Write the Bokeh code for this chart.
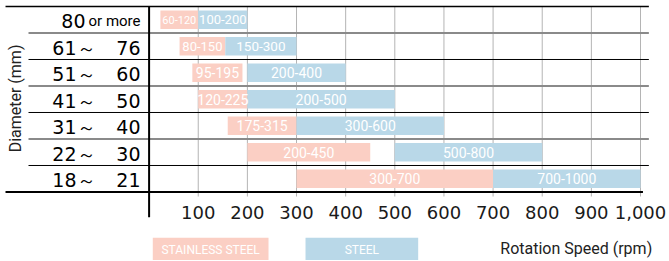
from bokeh.plotting import figure
from bokeh.models import Range1d, ColumnDataSource
from bokeh.core.properties import value
from bokeh.embed import file_html
from bokeh.resources import INLINE

# ---------------- data ----------------
diam_low = ["80", "61", "51", "41", "31", "22", "18"]
diam_high = ["or more", "76", "60", "50", "40", "30", "21"]

# drawn extents of the bars (rpm)
stainless_start = [23, 62, 88, 100, 160, 200, 300]
stainless_end = [100, 155, 190, 200, 300, 450, 700]
stainless_labels = ["60-120", "80-150", "95-195", "120-225", "175-315", "200-450", "300-700"]

steel_start = [100, 155, 200, 200, 300, 500, 700]
steel_end = [200, 300, 400, 500, 600, 800, 1000]
steel_labels = ["100-200", "150-300", "200-400", "200-500", "300-600", "500-800", "700-1000"]

tick_values = [100, 200, 300, 400, 500, 600, 700, 800, 900, 1000]
tick_labels = ["100", "200", "300", "400", "500", "600", "700", "800", "900", "1,000"]

series_names = ["STAINLESS STEEL", "STEEL"]
x_title = "Rotation Speed (rpm)"
y_title = "Diameter (mm)"

PINK = "#fbcfc4"
BLUE = "#b9d8e8"

# ---------------- figure ----------------
W, H = 669, 261
X0, X1 = -302.4, 1059.0
Y0, Y1 = -2.6227, 7.2264
p = figure(width=W, height=H, x_range=Range1d(X0, X1), y_range=Range1d(Y0, Y1),
           output_backend="svg", toolbar_location=None, min_border=0,
           x_axis_type=None, y_axis_type=None)
p.outline_line_color = None
p.background_fill_color = "white"
p.border_fill_color = "white"

n = len(diam_low)
row_y = [n - 1 - i + 0.5 for i in range(n)]

# vertical grid lines
p.segment(x0=tick_values, y0=[-0.17] * len(tick_values), x1=tick_values,
          y1=[n] * len(tick_values), line_color="#b4b4b4", line_width=1)

# bars
s_sizes = ["11px", "13px", "14px", "14px", "14px", "14px", "14px"]
t_sizes = ["13px", "13.5px", "14px", "14px", "14px", "14px", "14px"]
src_s = ColumnDataSource(dict(y=row_y, left=stainless_start, right=stainless_end,
                              mid=[(a + b) / 2 for a, b in zip(stainless_start, stainless_end)],
                              lab=stainless_labels, fs=s_sizes))
src_t = ColumnDataSource(dict(y=row_y, left=steel_start, right=steel_end,
                              mid=[(a + b) / 2 for a, b in zip(steel_start, steel_end)],
                              lab=steel_labels, fs=t_sizes))
p.hbar(y="y", left="left", right="right", height=0.7, source=src_s,
       fill_color=PINK, line_color=None)
p.hbar(y="y", left="left", right="right", height=0.7, source=src_t,
       fill_color=BLUE, line_color=None)

bar_font = value("Roboto")
for src in (src_s, src_t):
    p.text(x="mid", y="y", text="lab", source=src, text_color="white",
           text_font=bar_font, text_font_size="fs",
           text_align="center", text_baseline="middle")

# row separator lines
bounds = list(range(1, n))
colors = ["#000000" if b % 2 == 1 else "#8a8a8a" for b in bounds]
widths = [1 if b % 2 == 1 else 2 for b in bounds]
p.segment(x0=[-245.4] * len(bounds), y0=bounds, x1=[1017] * len(bounds), y1=bounds,
          line_color=colors, line_width=widths)
# top line
p.segment(x0=[-292.2], y0=[n], x1=[1017], y1=[n], line_color="black", line_width=1.5)
# bottom (x) line
p.segment(x0=[-292.2], y0=[0], x1=[1005], y1=[0], line_color="black", line_width=2)
# vertical axis line
p.segment(x0=[0], y0=[-0.951], x1=[0], y1=[n], line_color="black", line_width=2)

# row labels
lab_font = value("DejaVu Sans")
p.text(x=[-129.4], y=[row_y[0] - 0.05], text=[diam_low[0]], text_font=lab_font,
       text_font_size="19px", text_align="right", text_baseline="middle", text_color="black")
p.text(x=[-17.5], y=[row_y[0] - 0.05], text=[diam_high[0]], text_font=value("Roboto"),
       text_font_size="15px", text_align="right", text_baseline="middle", text_color="black")
p.text(x=[-109] * (n - 1), y=[v - 0.06 for v in row_y[1:]],
       text=[d + "～" for d in diam_low[1:]], text_font=lab_font,
       text_font_size="19px", text_align="right", text_baseline="middle", text_color="black")
p.text(x=[-17.5] * (n - 1), y=[v - 0.06 for v in row_y[1:]], text=diam_high[1:],
       text_font=lab_font, text_font_size="19px", text_align="right",
       text_baseline="middle", text_color="black")

# tick labels
p.text(x=tick_values, y=[-0.76] * len(tick_values), text=tick_labels,
       text_font=value("DejaVu Sans"), text_font_size="18px", text_align="center",
       text_baseline="middle", text_color="#1a1a1a")

# axis titles
p.text(x=[-271.9], y=[3.53], text=[y_title], angle=1.5708, text_font=value("Roboto"),
       text_font_size="16px", text_align="center", text_baseline="middle", text_color="#222222")
p.text(x=[1023.8], y=[-2.13], text=[x_title], text_font=value("Roboto"),
       text_font_size="16px", text_align="right", text_baseline="middle", text_color="#222222")

# legend boxes
leg_left = [7.5, 318.3]
leg_right = [243, 547.6]
p.quad(left=leg_left, right=leg_right, top=[-1.728, -1.728], bottom=[-2.566, -2.566],
       fill_color=[PINK, BLUE], line_color=None)
p.text(x=[(a + b) / 2 for a, b in zip(leg_left, leg_right)], y=[-2.18, -2.18],
       text=series_names, text_font=bar_font, text_font_size="12px",
       text_align="center", text_baseline="middle", text_color="white")

open("out.html", "w").write(file_html(p, INLINE))
